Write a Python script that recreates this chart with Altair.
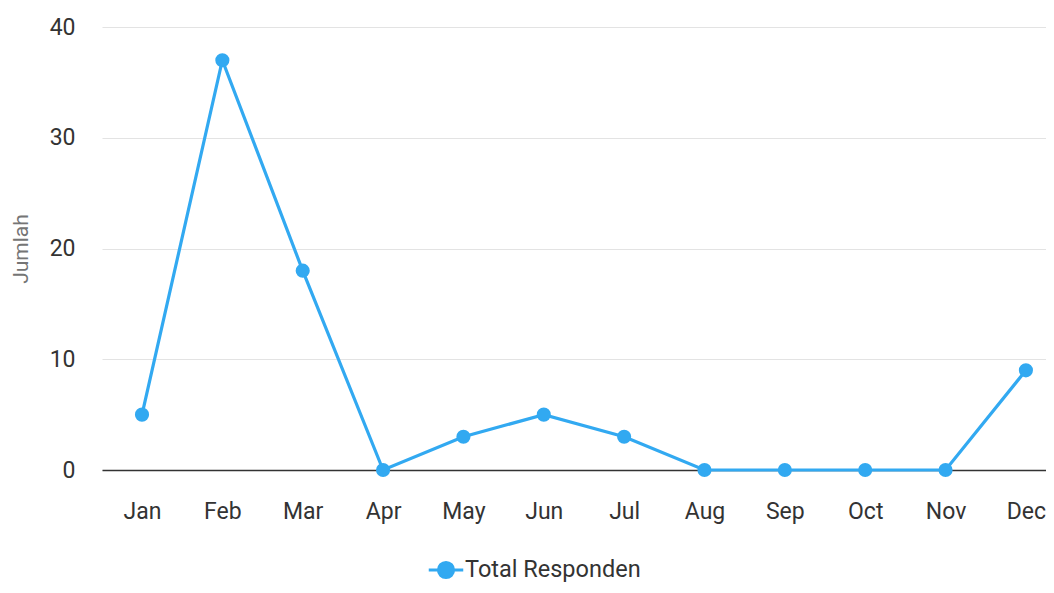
import altair as alt
import pandas as pd

months = ["Jan", "Feb", "Mar", "Apr", "May", "Jun", "Jul", "Aug", "Sep", "Oct", "Nov", "Dec"]
values = [5, 37, 18, 0, 3, 5, 3, 0, 0, 0, 0, 9]
series_name = "Total Responden"
y_ticks = [0, 10, 20, 30, 40]

BLUE = "#32a9f1"
FONT = "Roboto"

df = pd.DataFrame({
    "idx": list(range(len(months))),
    "Bulan": months,
    "Jumlah": values,
    "Seri": [series_name] * len(months),
})

W, H = 944, 443
month_expr = "[" + ",".join("'" + m + "'" for m in months) + "][datum.value]"

x_enc = alt.X(
    "idx:Q",
    scale=alt.Scale(domain=[-0.4978, 11.25], nice=False, zero=False),
    axis=alt.Axis(
        title=None, values=list(range(len(months))), labelExpr=month_expr,
        labelAngle=0, ticks=False, tickSize=0, labelPadding=30,
        labelFontSize=23, labelColor="#333333", labelFont=FONT,
        domainColor="#333333", domainWidth=1.6, grid=False,
    ),
)
y_enc = alt.Y(
    "Jumlah:Q",
    scale=alt.Scale(domain=[0, 40], nice=False),
    axis=alt.Axis(
        values=y_ticks, title="Jumlah", titleFontSize=21, titleColor="#757575",
        titleFont=FONT, titleFontWeight="normal", titleAngle=-90,
        titleX=-71, titleY=H / 2, titleBaseline="bottom", titleAlign="center",
        labelFontSize=23, labelColor="#333333", labelFont=FONT, labelPadding=27,
        ticks=False, tickSize=0, domain=False, gridColor="#e3e3e3", gridWidth=1,
    ),
)
color_scale = alt.Scale(domain=[series_name], range=[BLUE])

line = alt.Chart(df).mark_line(strokeWidth=3.2, color=BLUE).encode(
    x=x_enc, y=y_enc,
)
points = alt.Chart(df).mark_point(filled=True, size=200, opacity=1).encode(
    x=x_enc, y=y_enc,
    color=alt.Color(
        "Seri:N", scale=color_scale,
        legend=alt.Legend(
            title=None, orient="none", legendX=325, legendY=524,
            symbolType="M-1,0L1,0M-0.44,0A0.44,0.44,0,1,1,0.44,0A0.44,0.44,0,1,1,-0.44,0Z",
            symbolSize=1190, symbolStrokeWidth=3, symbolStrokeColor=BLUE,
            symbolFillColor=BLUE, symbolOpacity=1, labelLimit=400,
            labelFontSize=23.5, labelColor="#333333", labelFont=FONT, labelOffset=0,
        ),
    ),
)

chart = alt.layer(line, points).properties(
    width=W, height=H,
    autosize="none",
    padding={"left": 94, "top": 19, "right": 0, "bottom": 115},
).configure(font=FONT).configure_view(stroke=None, strokeWidth=0, strokeOpacity=0)

chart.save("out.html", embed_options={"renderer": "svg", "actions": False})
